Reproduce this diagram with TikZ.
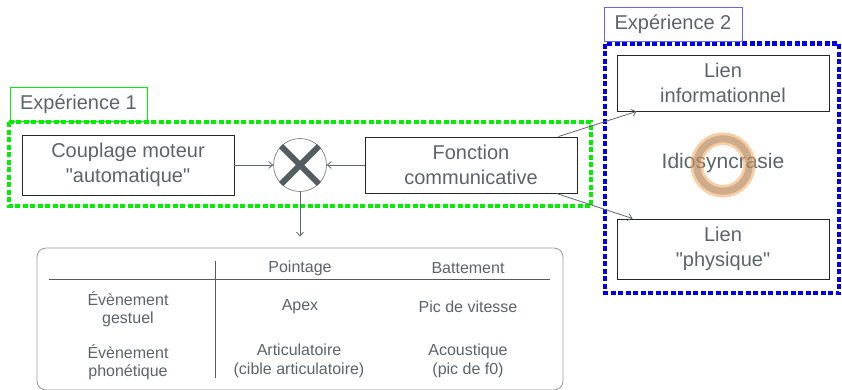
\documentclass[tikz,border=0pt]{standalone}
\usepackage{fontspec}
\setmainfont{Liberation Sans}[Ligatures=TeXOff]
\usepackage{tikz}
\usetikzlibrary{arrows.meta,positioning}
\usepackage{xcolor}
\definecolor{txtgray}{HTML}{5B6469}
\definecolor{expgreen}{HTML}{00F000}
\definecolor{expblue}{HTML}{0000F0}
\definecolor{linkgray}{HTML}{5F686C}
\definecolor{crossgray}{HTML}{545D61}
\definecolor{ringorange}{HTML}{F5A65B}
\definecolor{ringbrown}{HTML}{7A6A5A}

\tikzset{
  box/.style={draw=black!85, line width=0.9pt, minimum width=212pt, align=center, text=txtgray, font=\fontsize{20}{25}\selectfont},
  explabel/.style={draw, line width=0.8pt, minimum width=137pt, minimum height=34pt, text=txtgray, font=\fontsize{20}{24}\selectfont},
  expframe/.style={line width=4.5pt, dash pattern=on 5pt off 2.5pt},
  link/.style={draw=linkgray, line width=0.8pt, -{Straight Barb[length=4pt,width=7pt]}},
  cell/.style={text=txtgray, align=center, font=\fontsize{16}{18.5}\selectfont},
}

\begin{document}
\begin{tikzpicture}[x=1pt, y=-1pt]
  \useasboundingbox (0,0) rectangle (842,389);

  % experiment frames
  \draw[expframe, draw=expgreen] (9,122) rectangle (591,206);
  \draw[expframe, draw=expblue] (605,43.5) rectangle (839,293);
  \node[explabel, draw=expgreen] (exp1) at (78.5,104) {Expérience 1};
  \node[explabel, draw=expblue!60, minimum width=138pt] (exp2) at (673,24) {Expérience 2};

  \node[box, minimum height=60pt] (couplage) at (128,165) {Couplage moteur\\"automatique"};
  \node[box, minimum height=56pt] (fonction) at (471,165) {Fonction\\communicative};
  \node[box, minimum height=56pt] (lieninfo) at (723,83) {Lien\\informationnel};
  \node[box, minimum height=60pt] (lienphys) at (723,249) {Lien\\"physique"};

  \node[circle, draw=gray, line width=0.7pt, minimum size=53pt, inner sep=0pt] (mix) at (300,165) {};
  \draw[crossgray, line width=6pt] (mix.north west) -- (mix.south east) (mix.north east) -- (mix.south west);

  \node[text=txtgray, font=\fontsize{21}{25}\selectfont] (idio) at (723,163) {Idiosyncrasie};
  \coordinate (ring) at (723,165);
  \draw[ringorange, opacity=0.55, line width=12.5pt] (ring) circle (26.25pt);
  \draw[ringbrown, opacity=0.35, line width=7pt] (ring) circle (26.25pt);

  % table of events
  \node[draw=gray!80, line width=0.8pt, rounded corners=9pt, minimum width=526pt, minimum height=142pt] (table) at (300,319) {};
  \draw[gray!70!black, line width=0.8pt] (49,279) -- (550,279);
  \draw[gray!70!black, line width=0.8pt] (215,261) -- (215,378);
  \node[cell] (hpoint) at (300,268) {Pointage};
  \node[cell] (hbatt) at (468,268) {Battement};
  \node[cell] (gest) at (128,309) {Évènement\\gestuel};
  \node[cell] (apex) at (300,307) {Apex};
  \node[cell] (picvit) at (468,307) {Pic de vitesse};
  \node[cell] (phon) at (128,362) {Évènement\\phonétique};
  \node[cell] (artic) at (299,361) {Articulatoire\\(cible articulatoire)};
  \node[cell] (acous) at (468,361) {Acoustique\\(pic de f0)};

  \draw[link] (couplage.east) -- (mix.west);
  \draw[link] (fonction.west) -- (mix.east);
  \draw[link] (mix.south) -- ([yshift=11pt]table.north);
  \draw[link] ([xshift=-19pt]fonction.north east) -- ([xshift=20pt]lieninfo.south west);
  \draw[link] ([xshift=-21pt]fonction.south east) -- ([xshift=16pt]lienphys.north west);
\end{tikzpicture}
\end{document}
